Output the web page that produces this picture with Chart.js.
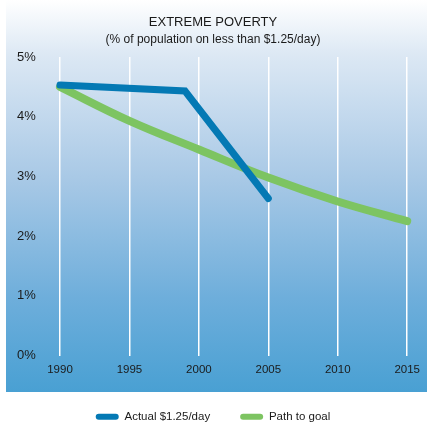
<!DOCTYPE html>
<html>
<head>
<meta charset="utf-8">
<script src="https://cdn.jsdelivr.net/npm/chart.js@4.4.1/dist/chart.umd.min.js"></script>
<style>
    html, body { margin: 0; padding: 0; background: #fff; }
    #wrap { position: relative; width: 427px; height: 422px; }
    #panel {
        position: absolute; left: 6px; top: 0; width: 421px; height: 392px;
        background: linear-gradient(to bottom, #ffffff 0%, #dce8f4 14%, #a9c9e6 45%, #6eaedb 76%, #49a0d3 100%);
    }
    #chart { position: absolute; left: 0; top: 0; }
</style>
</head>
<body>
<div id="wrap">
    <div id="panel"></div>
    <canvas id="chart" width="427" height="422"></canvas>
</div>
<script>
// values (percent of population)
const actualYears = [1990, 1999, 2005];
const actualValues = [4.53, 4.43, 2.63];
const goalYears = [1990, 1995, 2000, 2005, 2010, 2015];
const goalValues = [4.5, 3.93, 3.45, 2.98, 2.58, 2.25];
const yTicks = [0, 1, 2, 3, 4, 5];
const xTicks = [1990, 1995, 2000, 2005, 2010, 2015];

const FONT = 'Liberation Sans, Arial, sans-serif';
const TEXT = '#1a1a1a';

const ctx = document.getElementById('chart').getContext('2d');
const chart = new Chart(ctx, {
    type: 'line',
    data: {
        datasets: [{
            label: 'Actual $1.25/day',
            data: actualYears.map((y, i) => ({x: y, y: actualValues[i]})),
            borderColor: '#0479b4',
            backgroundColor: '#0479b4',
            borderWidth: 7,
            borderCapStyle: 'round',
            borderJoinStyle: 'miter',
            pointRadius: 0,
            tension: 0,
            clip: false,
        }, {
            label: 'Path to goal',
            data: goalYears.map((y, i) => ({x: y, y: goalValues[i]})),
            borderColor: '#7dc462',
            backgroundColor: '#7dc462',
            borderWidth: 8,
            borderCapStyle: 'round',
            pointRadius: 0,
            tension: 0.4,
            clip: false,
        }]
    },
    options: {
        responsive: false,
        animation: false,
        layout: {padding: {top: 15, left: 17, right: 18, bottom: -10.5}},
        plugins: {
            title: {
                display: true,
                text: 'EXTREME POVERTY',
                color: TEXT,
                font: {family: FONT, size: 13, weight: 'normal'},
                padding: {top: 0, bottom: 2},
            },
            subtitle: {
                display: true,
                text: '(% of population on less than $1.25/day)',
                color: TEXT,
                font: {family: FONT, size: 12, weight: 'normal'},
                padding: {top: 0, bottom: 10},
            },
            legend: {
                position: 'bottom',
                labels: {
                    color: TEXT,
                    font: {family: FONT, size: 11.5},
                    boxWidth: 23,
                    boxHeight: 6,
                    useBorderRadius: true,
                    borderRadius: 3,
                    padding: 30,
                    generateLabels: c => Chart.defaults.plugins.legend.labels.generateLabels(c)
                        .map(l => ({...l, lineWidth: 0})),
                },
            },
            tooltip: {enabled: false},
        },
        scales: {
            x: {
                type: 'linear',
                min: 1990, max: 2015,
                afterBuildTicks: s => { s.ticks = xTicks.map(v => ({value: v})); },
                ticks: {
                    color: TEXT,
                    font: {family: FONT, size: 11.5},
                    padding: 7,
                    callback: v => String(v),
                },
                grid: {color: '#ffffff', lineWidth: 1.5, drawTicks: false},
                border: {display: false},
                afterFit: s => { s.height = 25.5; },
            },
            y: {
                min: 0, max: 5,
                afterBuildTicks: s => { s.ticks = yTicks.map(v => ({value: v})); },
                ticks: {
                    color: TEXT,
                    font: {family: FONT, size: 13},
                    crossAlign: 'far',
                    padding: 0,
                    callback: v => v + '%',
                },
                grid: {display: false, drawTicks: false},
                border: {display: false},
                afterFit: s => { s.width = 43; },
            }
        }
    }
});
</script>
</body>
</html>
